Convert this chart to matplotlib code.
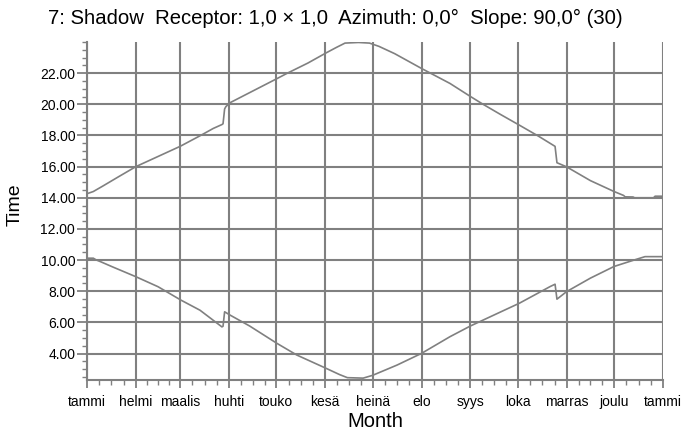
import numpy as np
import matplotlib.pyplot as plt
from matplotlib.ticker import FixedLocator, MultipleLocator, FormatStrFormatter

plt.rcParams['font.family'] = ['Liberation Sans', 'DejaVu Sans']

# day of year -> shadow end time (hours)
days_end = [0, 4, 10, 20, 31, 45, 59, 72, 80, 85.5, 86.2, 87.2, 88, 90.6, 100, 110, 120,
            127, 140, 151.5, 158, 163.5, 172, 179, 185, 195, 212, 230, 243, 251, 262,
            274, 286, 296.6, 297.8, 304, 319, 334, 340, 341, 346, 347, 359, 360, 365]
hours_end = [14.26, 14.4, 14.75, 15.35, 16.0, 16.65, 17.3, 18.0, 18.45, 18.7, 18.75, 19.7,
             19.85, 20.1, 20.59, 21.11, 21.63, 22.0, 22.65, 23.3, 23.65, 23.93, 23.97,
             23.93, 23.72, 23.25, 22.3, 21.34, 20.5, 20.0, 19.35, 18.66, 17.96, 17.3,
             16.25, 15.98, 15.1, 14.4, 14.15, 14.06, 14.05, 14.0, 14.0, 14.1, 14.1]

# day of year -> shadow start time (hours)
days_start = [0, 4, 6, 8.5, 16, 31, 45, 59.5, 71.6, 85.5, 86.2, 87.2, 90.6, 103, 120.4,
              133, 151.5, 160, 165, 175, 181, 196.5, 212, 230, 243, 274, 293.5, 296.6,
              297.8, 304, 319, 334, 348.5, 353.6, 365]
hours_start = [10.12, 10.12, 10.0, 9.9, 9.57, 8.93, 8.29, 7.43, 6.78, 5.71, 5.75, 6.68,
               6.47, 5.77, 4.65, 3.9, 3.05, 2.65, 2.45, 2.42, 2.6, 3.26, 4.01, 5.08, 5.77,
               7.23, 8.3, 8.45, 7.49, 7.98, 8.84, 9.59, 10.06, 10.22, 10.22]

month_days = [0, 31, 59, 90, 120, 151, 181, 212, 243, 273, 304, 334, 365]
month_names = ['tammi', 'helmi', 'maalis', 'huhti', 'touko', 'kesä', 'heinä',
               'elo', 'syys', 'loka', 'marras', 'joulu', 'tammi']

grey = '#808080'

fig = plt.figure(figsize=(6.83, 4.32), dpi=100)
ax = fig.add_axes([87/683, 1-380/432, 576/683, 338/432])

ax.plot(days_end, hours_end, color=grey, lw=1.2, zorder=3)
ax.plot(days_start, hours_start, color=grey, lw=1.2, zorder=3)

ax.set_xlim(0, 365)
ax.set_ylim(2.3, 24.0)

# minor ticks: each month cut in four
minor = []
for a, b in zip(month_days[:-1], month_days[1:]):
    minor += [a + k*(b-a)/4 for k in (1, 2, 3)]
ax.xaxis.set_major_locator(FixedLocator(month_days))
ax.xaxis.set_minor_locator(FixedLocator(minor))
ax.set_xticklabels(month_names)
ax.yaxis.set_major_locator(MultipleLocator(2))
ax.yaxis.set_minor_locator(MultipleLocator(0.5))
ax.yaxis.set_major_formatter(FormatStrFormatter('%.2f'))
ax.set_yticks(np.arange(4, 23, 2))

ax.grid(True, which='major', color=grey, lw=1.5)
for s in ['top', 'right']:
    ax.spines[s].set_visible(False)
for s in ['left', 'bottom']:
    ax.spines[s].set_color(grey)
    ax.spines[s].set_linewidth(1.5)

ax.tick_params(axis='x', which='major', length=6, width=1.3, color=grey, labelsize=10, pad=5)
ax.tick_params(axis='y', which='major', length=7.5, width=1.3, color=grey, labelsize=10, pad=1)
ax.tick_params(which='minor', length=3.5, width=1.0, color=grey)

ax.set_xlabel('Month', fontsize=14.5, labelpad=2)
ax.set_ylabel('Time', fontsize=14, labelpad=8)
ax.yaxis.set_label_coords(-0.11, 0.52)
fig.text(335.5/683, 1-18.5/432, '7: Shadow  Receptor: 1,0 × 1,0  Azimuth: 0,0°  Slope: 90,0° (30)',
         ha='center', va='center', fontsize=14.6)

fig.savefig('out.png', dpi=100)
